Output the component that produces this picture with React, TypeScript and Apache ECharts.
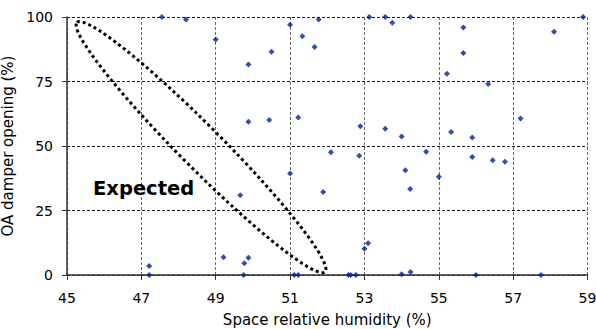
import React, { useEffect, useRef } from "react";
import * as echarts from "echarts";

const humidity = [
  47.55, 48.2, 49.0, 49.88, 50.5, 51.0, 51.33, 51.66, 51.77, 49.88, 50.44, 51.22,
  53.13, 53.56, 53.75, 54.24, 55.66, 55.66, 55.22, 56.33, 58.1, 58.88,
  52.89, 53.56, 54.0, 55.33, 55.9, 57.2,
  52.1, 52.86, 51.89, 54.1, 54.23, 54.66, 55.0, 55.9, 56.45, 56.78,
  53.0, 53.1, 52.57, 52.63, 52.77, 54.0, 54.24, 56.0, 57.75,
  47.21, 47.21, 49.21, 49.66, 49.77, 49.88, 49.75, 51.0, 51.11, 51.22,
];
const damper = [
  100, 99, 91.3, 81.6, 86.5, 97, 92.5, 88.4, 99, 59.4, 60.1, 61.0,
  100, 100, 97.8, 100, 95.9, 86, 78, 74, 94.3, 100,
  57.7, 56.7, 53.7, 55.4, 53.3, 60.7,
  47.6, 46.2, 32.2, 40.6, 33.3, 47.8, 38.1, 45.7, 44.5, 43.9,
  10.2, 12.3, 0, 0, 0, 0.3, 1.2, 0, 0,
  3.5, 0, 6.9, 30.9, 4.6, 6.7, 0, 39.3, 0, 0,
];
const xTicks = [45, 47, 49, 51, 53, 55, 57, 59];
const yTicks = [0, 25, 50, 75, 100];
const ellipseEnds = [
  [45.27, 97.9],
  [51.94, 1.2],
];
const expectedLabel = { text: "Expected", at: [45.7, 33.5] };

const FONT = "DejaVu Sans";

export default function App() {
  const ref = useRef<HTMLDivElement>(null);
  useEffect(() => {
    if (!ref.current) return;
    const chart = echarts.init(ref.current, undefined, { renderer: "svg" });
    const points = humidity.map((h, i) => [h, damper[i]]);
    chart.setOption({
      animation: false,
      grid: { left: 67, right: 8.5, top: 17, bottom: 54, containLabel: false, outerBoundsMode: "none" },
      xAxis: {
        type: "value",
        min: xTicks[0],
        max: xTicks[xTicks.length - 1],
        interval: 2,
        name: "Space relative humidity (%)",
        nameLocation: "middle",
        nameGap: 37.5,
        nameTextStyle: { fontFamily: FONT, fontSize: 15, color: "#000" },
        axisLine: { show: true, lineStyle: { color: "#333", width: 1.5 } },
        axisTick: { show: true, length: 5, lineStyle: { color: "#333" } },
        axisLabel: { fontFamily: FONT, fontSize: 14, color: "#000", margin: 16 },
        splitLine: { show: true, lineStyle: { color: "#666", type: [3, 2], width: 1 } },
      },
      yAxis: {
        type: "value",
        min: yTicks[0],
        max: yTicks[yTicks.length - 1],
        interval: 25,
        name: "OA damper opening (%)",
        nameLocation: "middle",
        nameGap: 43,
        nameTextStyle: { fontFamily: FONT, fontSize: 15, color: "#000" },
        axisLine: { show: true, lineStyle: { color: "#333", width: 1.5 } },
        axisTick: { show: true, length: 5, lineStyle: { color: "#333" } },
        axisLabel: { fontFamily: FONT, fontSize: 14, color: "#000", margin: 14 },
        splitLine: { show: true, lineStyle: { color: "#111", type: [3, 2], width: 1 } },
      },
      series: [
        {
          type: "scatter",
          data: points,
          symbol: "diamond",
          symbolSize: 6,
          clip: false,
          itemStyle: { color: "#00209e" },
        },
      ],
    });
    const p1 = chart.convertToPixel({ gridIndex: 0 }, ellipseEnds[0]) as number[];
    const p2 = chart.convertToPixel({ gridIndex: 0 }, ellipseEnds[1]) as number[];
    const cx = (p1[0] + p2[0]) / 2;
    const cy = (p1[1] + p2[1]) / 2;
    const dx = p2[0] - p1[0];
    const dy = p2[1] - p1[1];
    const rx = Math.sqrt(dx * dx + dy * dy) / 2;
    const rot = -Math.atan2(dy, dx);
    const tp = chart.convertToPixel({ gridIndex: 0 }, expectedLabel.at) as number[];
    chart.setOption({
      graphic: [
        {
          type: "ellipse",
          x: cx,
          y: cy,
          rotation: rot,
          shape: { cx: 0, cy: 0, rx: rx, ry: 21 },
          style: { fill: "none", stroke: "#000", lineWidth: 3, lineDash: [3, 3] },
          z: 10,
        },
        {
          type: "text",
          x: tp[0],
          y: tp[1],
          style: {
            text: expectedLabel.text,
            fontFamily: FONT,
            fontSize: 19.5,
            fontWeight: "bold",
            fill: "#000",
            textVerticalAlign: "middle",
            textAlign: "left",
          },
          z: 10,
        },
      ],
    });
    return () => chart.dispose();
  }, []);
  return <div ref={ref} style={{ width: 596, height: 329, position: "absolute", left: 0, top: 0 }} />;
}
